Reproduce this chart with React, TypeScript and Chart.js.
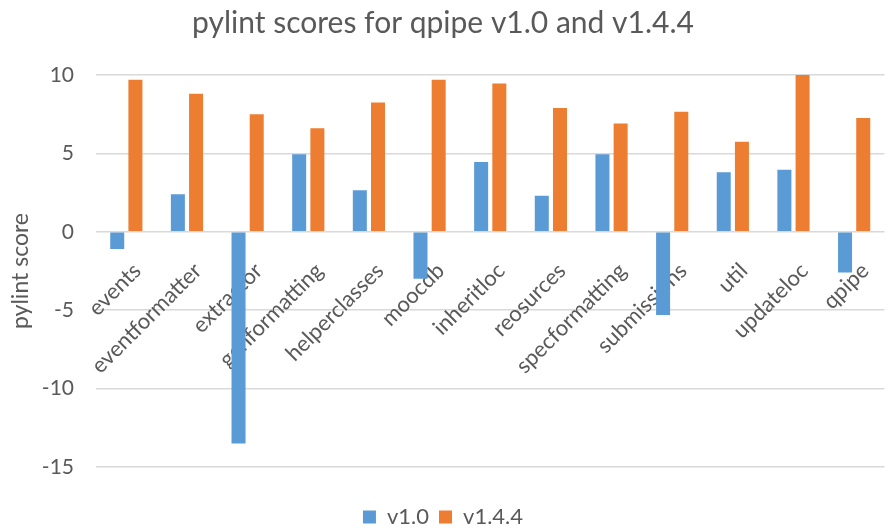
import React, { useEffect, useRef } from 'react';
import { Chart, registerables } from 'chart.js';

Chart.register(...registerables);

const categories = [
  'events', 'eventformatter', 'extractor', 'genformatting', 'helperclasses', 'moocdb',
  'inheritloc', 'reosurces', 'specformatting', 'submissions', 'util', 'updateloc', 'qpipe',
];
const v10 = [-1.1, 2.4, -13.5, 4.95, 2.65, -3.0, 4.45, 2.3, 4.95, -5.3, 3.8, 3.95, -2.6];
const v144 = [9.7, 8.8, 7.5, 6.6, 8.25, 9.7, 9.45, 7.9, 6.9, 7.65, 5.75, 10.0, 7.25];
const yMin = -15;
const yMax = 10;
const yStep = 5;

const TEXT = '#595959';
const GRID = '#D9D9D9';
const FONT = 'Lato, Carlito, Calibri, sans-serif';

export default function App() {
  const ref = useRef<HTMLCanvasElement>(null);
  useEffect(() => {
    document.body.style.margin = '0';
    const chart = new Chart(ref.current!, {
      type: 'bar',
      data: {
        labels: categories,
        datasets: [
          { label: 'v1.0', data: v10, backgroundColor: '#5B9BD5', categoryPercentage: 0.6, barPercentage: 0.77 },
          { label: 'v1.4.4', data: v144, backgroundColor: '#ED7D31', categoryPercentage: 0.6, barPercentage: 0.77 },
        ],
      },
      options: {
        responsive: false,
        animation: false,
        layout: { padding: { left: 0, right: 5, top: 0, bottom: -7 } },
        scales: {
          x: {
            type: 'category',
            position: { y: 0 },
            grid: { display: false },
            border: { display: false },
            ticks: {
              autoSkip: false,
              minRotation: 45,
              maxRotation: 45,
              padding: 18,
              labelOffset: 11,
              color: TEXT,
              font: { family: FONT, size: 22 },
            },
          },
          y: {
            min: yMin,
            max: yMax,
            afterFit: (s: any) => { s.width = 96; },
            grid: { color: GRID, lineWidth: 1.5, drawTicks: false },
            border: { display: false },
            ticks: {
              stepSize: yStep,
              padding: 22,
              color: TEXT,
              font: { family: FONT, size: 21 },
            },
            title: {
              display: true,
              text: 'pylint score',
              color: TEXT,
              font: { family: FONT, size: 23 },
              padding: { top: 7, bottom: 0 },
            },
          },
        },
        plugins: {
          title: {
            display: true,
            text: 'pylint scores for qpipe v1.0 and v1.4.4',
            color: TEXT,
            font: { family: FONT, size: 30, weight: 'normal' },
            padding: { top: 5, bottom: 34 },
          },
          legend: {
            position: 'bottom',
            title: { display: true, text: '', font: { size: 10 }, padding: { top: 17, bottom: 0 } },
            labels: {
              boxWidth: 13,
              boxHeight: 13,
              padding: 10,
              color: TEXT,
              font: { family: FONT, size: 22 },
            },
          },
          tooltip: { enabled: false },
        },
      },
    });
    return () => chart.destroy();
  }, []);
  return (
    <div style={{ width: 891, height: 531 }}>
      <canvas ref={ref} width={891} height={531} />
    </div>
  );
}
